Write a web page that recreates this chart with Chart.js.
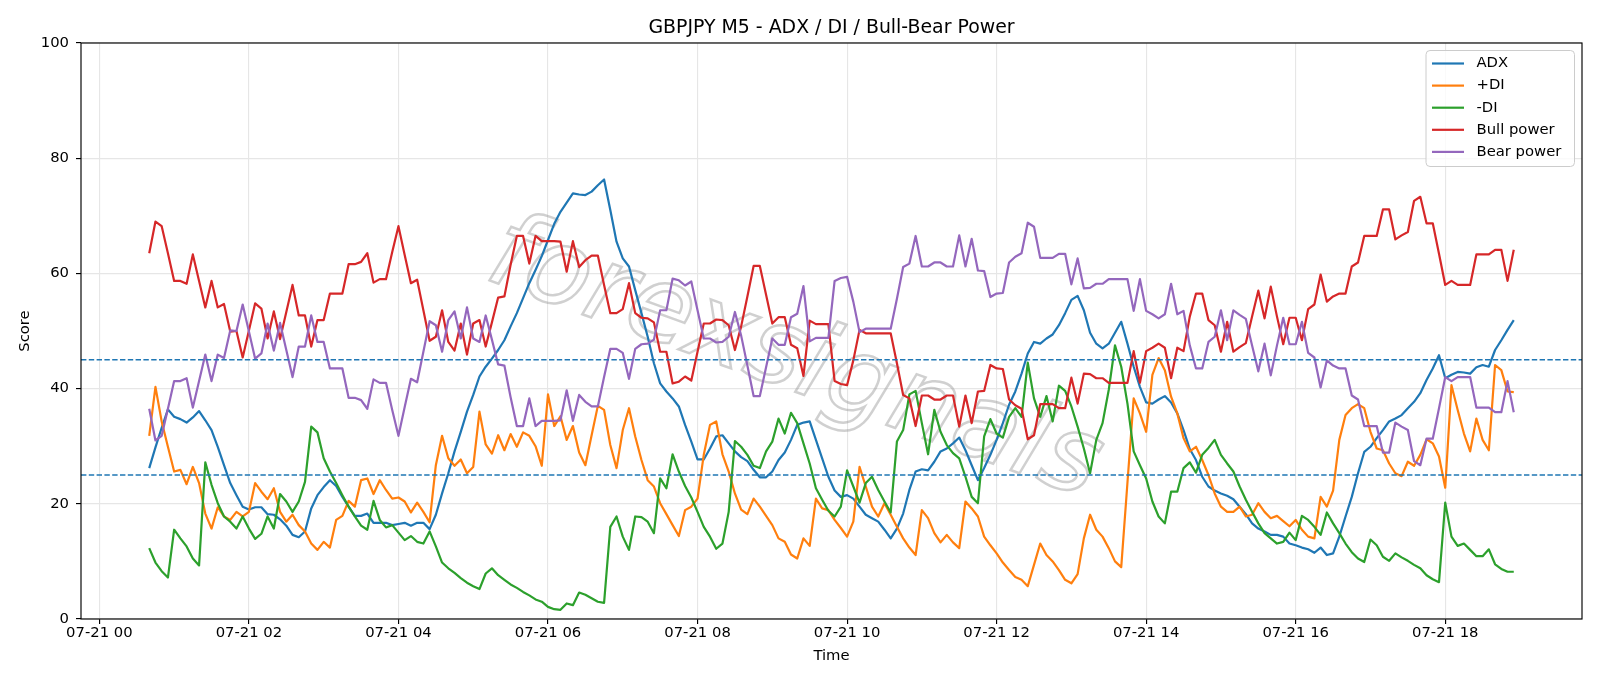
<!DOCTYPE html>
<html>
<head>
<meta charset="utf-8">
<script src="https://cdn.jsdelivr.net/npm/chart.js@4.4.1/dist/chart.umd.min.js"></script>
<style>
  html, body { margin: 0; padding: 0; background: #fff; }
  #wrap { width: 1600px; height: 686px; }
</style>
</head>
<body>
<div id="wrap"><canvas id="adxChart" width="1600" height="686"></canvas></div>
<script>
// ======= DONNEES (M5, 07-21 00:40 -> 18:55) =======
const startMinute = 40;
const stepMinutes = 5;

const adx = [
  26.2, 29.8, 33.2, 36.4, 35.1, 34.7, 34.1, 35.0, 36.1, 34.5,
  32.8, 29.9, 26.7, 23.6, 21.5, 19.5, 19.0, 19.4, 19.4, 18.2,
  18.1, 17.3, 16.2, 14.6, 14.2, 15.2, 19.2, 21.5, 22.9, 24.1,
  23.1, 21.2, 19.5, 17.9, 17.9, 18.3, 16.7, 16.7, 16.7, 16.3,
  16.5, 16.7, 16.2, 16.7, 16.7, 15.6, 18.1, 21.8, 25.3, 29.1,
  32.5, 36.0, 38.9, 42.1, 43.8, 45.2, 46.7, 48.4, 50.8, 53.1,
  55.7, 58.3, 60.6, 63.0, 65.8, 68.6, 70.7, 72.3, 73.9, 73.7,
  73.6, 74.2, 75.3, 76.3, 71.0, 65.5, 62.6, 61.2, 57.1, 53.1,
  49.0, 44.4, 40.9, 39.5, 38.3, 36.9, 33.7, 30.8, 27.7, 27.7,
  29.6, 31.7, 31.9, 30.5, 29.1, 28.1, 27.4, 25.9, 24.6, 24.6,
  25.6, 27.6, 28.9, 31.1, 33.7, 34.1, 34.3, 31.1, 27.9, 24.7,
  22.3, 21.2, 21.5, 20.9, 19.5, 18.1, 17.5, 16.9, 15.5, 14.0,
  15.7, 18.3, 22.4, 25.6, 26.0, 25.8, 27.3, 29.1, 29.6, 30.5,
  31.5, 29.3, 26.7, 24.1, 26.2, 28.5, 31.1, 34.0, 37.2, 39.5,
  42.6, 46.1, 48.1, 47.8, 48.7, 49.4, 51.0, 53.1, 55.4, 56.1,
  53.6, 49.7, 47.8, 47.0, 47.8, 49.7, 51.6, 47.8, 43.8, 40.3,
  37.6, 37.4, 38.1, 38.7, 37.6, 35.7, 32.8, 29.5, 27.6, 24.7,
  23.0, 22.3, 21.8, 21.4, 20.8, 19.5, 18.2, 16.6, 15.7, 15.2,
  14.6, 14.6, 14.3, 13.1, 12.8, 12.4, 12.1, 11.5, 12.4, 11.1,
  11.4, 14.3, 17.8, 21.2, 25.3, 29.0, 29.9, 31.4, 32.8, 34.3,
  34.8, 35.4, 36.6, 37.7, 39.2, 41.5, 43.5, 45.8, 41.8, 42.4,
  42.9, 42.8, 42.6, 43.7, 44.1, 43.8, 46.7, 48.4, 50.2, 51.9
];

const plusDI = [
  31.8, 40.3, 34.3, 29.9, 25.6, 25.9, 23.4, 26.4, 23.6, 18.3,
  15.7, 19.4, 17.8, 17.2, 18.6, 17.8, 18.6, 23.6, 22.1, 20.8,
  22.7, 18.6, 16.9, 18.1, 16.3, 15.2, 13.1, 12.0, 13.4, 12.4,
  17.2, 17.9, 20.5, 19.5, 24.1, 24.4, 21.7, 24.1, 22.4, 20.9,
  21.1, 20.4, 18.5, 20.2, 18.6, 16.8, 26.7, 31.8, 27.9, 26.6,
  27.7, 25.3, 26.4, 36.0, 30.3, 28.7, 31.9, 29.3, 32.1, 29.9,
  32.4, 31.8, 30.0, 26.6, 39.0, 33.5, 35.2, 31.1, 33.5, 28.9,
  26.7, 31.9, 37.0, 36.3, 30.2, 26.2, 32.8, 36.6, 31.7, 27.6,
  24.1, 23.0, 20.1, 18.2, 16.3, 14.4, 18.9, 19.5, 20.9, 28.5,
  33.7, 34.3, 28.6, 25.6, 21.8, 19.0, 18.2, 20.9, 19.5, 17.9,
  16.3, 14.0, 13.4, 11.2, 10.5, 14.0, 12.7, 20.9, 19.2, 18.9,
  17.2, 15.8, 14.3, 16.9, 26.4, 23.0, 19.5, 17.8, 20.1, 18.1,
  16.0, 14.0, 12.4, 11.1, 18.9, 17.5, 14.9, 13.3, 14.6, 13.3,
  12.3, 20.4, 19.2, 17.8, 14.3, 12.8, 11.4, 9.8, 8.5, 7.3,
  6.8, 5.7, 9.4, 13.1, 11.1, 10.0, 8.5, 6.8, 6.2, 7.8,
  14.0, 18.1, 15.5, 14.3, 12.3, 10.0, 9.0, 23.7, 38.3, 35.7,
  32.5, 42.4, 45.3, 43.2, 38.6, 35.7, 31.4, 29.1, 29.9, 27.6,
  25.0, 21.8, 19.5, 18.6, 18.6, 19.5, 17.8, 18.1, 20.1, 18.6,
  17.5, 17.9, 17.0, 16.1, 17.2, 15.5, 14.3, 14.0, 21.2, 19.5,
  22.3, 31.1, 35.4, 36.6, 37.3, 36.6, 32.5, 29.6, 29.3, 27.0,
  25.3, 24.8, 27.3, 26.6, 28.5, 31.2, 30.5, 28.2, 22.8, 40.6,
  36.3, 32.2, 29.1, 34.8, 31.1, 29.3, 44.1, 43.2, 39.5, 39.4
];

const minusDI = [
  12.3, 9.8, 8.3, 7.2, 15.5, 14.0, 12.6, 10.5, 9.3, 27.2,
  23.3, 20.1, 17.8, 16.9, 15.7, 17.8, 15.7, 13.9, 14.8, 17.8,
  15.7, 21.7, 20.4, 18.6, 20.4, 23.8, 33.4, 32.4, 27.9, 25.6,
  23.6, 21.5, 19.5, 17.8, 16.2, 15.5, 20.5, 17.2, 15.9, 16.3,
  15.0, 13.7, 14.4, 13.4, 13.1, 15.2, 12.6, 9.8, 8.8, 8.0,
  7.1, 6.3, 5.7, 5.2, 7.9, 8.8, 7.6, 6.8, 6.0, 5.4,
  4.7, 4.1, 3.4, 3.0, 2.1, 1.7, 1.6, 2.7, 2.4, 4.6,
  4.2, 3.6, 3.0, 2.8, 16.0, 17.8, 14.3, 12.0, 17.8, 17.7,
  16.9, 14.9, 24.4, 22.7, 28.6, 25.6, 23.1, 21.1, 18.6, 16.0,
  14.3, 12.2, 13.1, 18.6, 30.9, 29.9, 28.5, 26.6, 26.2, 29.1,
  30.8, 34.8, 32.2, 35.8, 34.0, 30.5, 27.0, 22.7, 20.7, 18.8,
  17.8, 19.5, 25.8, 23.0, 20.2, 23.6, 24.7, 22.4, 20.4, 18.5,
  30.8, 32.8, 39.0, 39.6, 34.0, 28.6, 36.3, 32.5, 30.2, 28.8,
  27.9, 24.7, 21.2, 20.1, 31.7, 34.7, 32.2, 31.5, 35.1, 36.6,
  35.1, 44.5, 38.3, 35.1, 38.7, 34.3, 40.5, 39.6, 36.9, 33.4,
  29.6, 25.3, 31.1, 34.0, 39.8, 47.5, 43.8, 37.4, 29.1, 26.7,
  24.4, 20.4, 17.8, 16.6, 22.1, 22.1, 26.2, 27.2, 25.4, 28.5,
  29.7, 31.1, 28.5, 27.0, 25.6, 23.0, 20.7, 18.6, 16.6, 14.9,
  14.0, 13.1, 13.4, 15.0, 13.7, 17.9, 17.2, 16.0, 14.6, 18.5,
  16.6, 14.9, 13.1, 11.6, 10.5, 9.9, 13.8, 12.8, 10.8, 10.1,
  11.4, 10.7, 10.1, 9.4, 8.8, 7.6, 6.9, 6.4, 20.2, 14.3,
  12.7, 13.1, 12.0, 10.9, 10.9, 12.1, 9.5, 8.7, 8.2, 8.2
];

const bullPower = [
  63.5, 69.0, 68.2, 63.5, 58.7, 58.7, 58.2, 63.3, 58.7, 54.1,
  58.7, 54.1, 54.7, 49.9, 50.0, 45.4, 50.1, 54.8, 53.9, 48.7,
  53.4, 48.6, 53.3, 58.0, 52.7, 52.7, 47.3, 51.9, 51.9, 56.5,
  56.5, 56.5, 61.6, 61.6, 62.0, 63.5, 58.4, 59.0, 59.0, 63.7,
  68.2, 63.2, 58.3, 58.9, 53.6, 48.3, 49.0, 53.6, 48.1, 46.6,
  51.3, 45.9, 51.3, 51.9, 47.3, 51.5, 55.8, 56.0, 61.5, 66.5,
  66.5, 61.7, 66.5, 65.6, 65.6, 65.6, 65.5, 60.3, 65.6, 61.1,
  62.3, 63.1, 63.1, 58.0, 53.1, 53.1, 53.8, 58.3, 53.1, 52.3,
  52.2, 51.5, 46.4, 46.4, 40.9, 41.2, 42.1, 41.4, 46.4, 51.3,
  51.3, 52.0, 51.9, 51.0, 46.7, 50.8, 56.0, 61.3, 61.3, 56.3,
  51.3, 52.4, 52.4, 47.6, 47.0, 42.2, 51.8, 51.2, 51.2, 51.2,
  41.3, 40.8, 40.6, 44.9, 50.2, 49.6, 49.6, 49.6, 49.6, 49.6,
  44.4, 38.9, 38.3, 33.5, 38.8, 38.8, 38.1, 38.1, 38.8, 38.8,
  33.4, 38.8, 34.0, 39.5, 39.6, 44.1, 43.5, 43.4, 38.1, 37.1,
  36.5, 31.2, 31.9, 37.3, 37.3, 37.3, 36.6, 36.6, 41.9, 37.4,
  42.6, 42.5, 41.8, 41.8, 41.0, 41.0, 41.0, 41.0, 46.5, 41.0,
  46.5, 47.1, 47.8, 47.1, 41.8, 47.1, 46.5, 52.5, 56.5, 56.5,
  51.9, 51.0, 46.4, 51.6, 46.4, 47.2, 47.9, 52.5, 57.0, 52.2,
  57.7, 52.5, 47.7, 52.3, 52.3, 48.4, 53.8, 54.6, 59.8, 55.1,
  56.0, 56.5, 56.5, 61.2, 61.9, 66.5, 66.5, 66.5, 71.1, 71.1,
  65.9, 66.6, 67.2, 72.6, 73.3, 68.7, 68.7, 63.4, 58.0, 58.7,
  58.0, 58.0, 58.0, 63.3, 63.3, 63.3, 64.1, 64.1, 58.7, 64.1
];

const bearPower = [
  36.5, 31.0, 31.8, 36.5, 41.3, 41.3, 41.8, 36.7, 41.3, 45.9,
  41.3, 45.9, 45.3, 50.1, 50.0, 54.6, 49.9, 45.2, 46.1, 51.3,
  46.6, 51.4, 46.7, 42.0, 47.3, 47.3, 52.7, 48.1, 48.1, 43.5,
  43.5, 43.5, 38.4, 38.4, 38.0, 36.5, 41.6, 41.0, 41.0, 36.3,
  31.8, 36.8, 41.7, 41.1, 46.4, 51.7, 51.0, 46.4, 51.9, 53.4,
  48.7, 54.1, 48.7, 48.1, 52.7, 48.5, 44.2, 44.0, 38.5, 33.5,
  33.5, 38.3, 33.5, 34.4, 34.4, 34.4, 34.5, 39.7, 34.4, 38.9,
  37.7, 36.9, 36.9, 42.0, 46.9, 46.9, 46.2, 41.7, 46.9, 47.7,
  47.8, 48.5, 53.6, 53.6, 59.1, 58.8, 57.9, 58.6, 53.6, 48.7,
  48.7, 48.0, 48.1, 49.0, 53.3, 49.2, 44.0, 38.7, 38.7, 43.7,
  48.7, 47.6, 47.6, 52.4, 53.0, 57.8, 48.2, 48.8, 48.8, 48.8,
  58.7, 59.2, 59.4, 55.1, 49.8, 50.4, 50.4, 50.4, 50.4, 50.4,
  55.6, 61.1, 61.7, 66.5, 61.2, 61.2, 61.9, 61.9, 61.2, 61.2,
  66.6, 61.2, 66.0, 60.5, 60.4, 55.9, 56.5, 56.6, 61.9, 62.9,
  63.5, 68.8, 68.1, 62.7, 62.7, 62.7, 63.4, 63.4, 58.1, 62.6,
  57.4, 57.5, 58.2, 58.2, 59.0, 59.0, 59.0, 59.0, 53.5, 59.0,
  53.5, 52.9, 52.2, 52.9, 58.2, 52.9, 53.5, 47.5, 43.5, 43.5,
  48.1, 49.0, 53.6, 48.4, 53.6, 52.8, 52.1, 47.5, 43.0, 47.8,
  42.3, 47.5, 52.3, 47.7, 47.7, 51.6, 46.2, 45.4, 40.2, 44.9,
  44.0, 43.5, 43.5, 38.8, 38.1, 33.5, 33.5, 33.5, 28.9, 28.9,
  34.1, 33.4, 32.8, 27.4, 26.7, 31.3, 31.3, 36.6, 42.0, 41.3,
  42.0, 42.0, 42.0, 36.7, 36.7, 36.7, 35.9, 35.9, 41.3, 35.9
];

const tickHours = [0, 2, 4, 6, 8, 10, 12, 14, 16, 18];
const tickLabels = ['07-21 00', '07-21 02', '07-21 04', '07-21 06', '07-21 08',
                    '07-21 10', '07-21 12', '07-21 14', '07-21 16', '07-21 18'];
const levels = [25, 45];

// minutes depuis 07-21 00:00
const times = adx.map((_, i) => startMinute + i * stepMinutes);
const span = times[times.length - 1] - times[0];
const xMin = times[0] - 0.05 * span;
const xMax = times[times.length - 1] + 0.05 * span;

const toPoints = arr => arr.map((v, i) => ({ x: times[i], y: v }));

const series = [
  { label: 'ADX', data: adx, color: '#1f77b4' },
  { label: '+DI', data: plusDI, color: '#ff7f0e' },
  { label: '-DI', data: minusDI, color: '#2ca02c' },
  { label: 'Bull power', data: bullPower, color: '#d62728' },
  { label: 'Bear power', data: bearPower, color: '#9467bd' }
];

const datasets = series.map((s, k) => ({
  label: s.label,
  data: toPoints(s.data),
  borderColor: s.color,
  backgroundColor: s.color,
  borderWidth: 2.2,
  pointRadius: 0,
  tension: 0,
  borderJoinStyle: 'round',
  order: 10 - k
}));

levels.forEach(lv => {
  datasets.push({
    label: 'level ' + lv,
    data: [{ x: xMin, y: lv }, { x: xMax, y: lv }],
    borderColor: '#1f77b4',
    borderWidth: 1.45,
    borderDash: [5.4, 2.4],
    pointRadius: 0,
    order: 1
  });
});

// ======= DECOR : titre, cadre, legende, filigrane =======
const decorPlugin = {
  id: 'decor',
  beforeDatasetsDraw(chart) {
    const ctx = chart.ctx;
    ctx.save();
    ctx.translate(794, 362);
    ctx.rotate(20 * Math.PI / 180);
    ctx.font = 'oblique 106px "DejaVu Sans"';
    ctx.textAlign = 'center';
    ctx.textBaseline = 'middle';
    ctx.strokeStyle = 'rgba(150,150,150,0.45)';
    ctx.lineWidth = 2.5;
    ctx.strokeText('forexsignals', 0, 0);
    ctx.restore();
  },
  afterDraw(chart) {
    const ctx = chart.ctx;
    const a = chart.chartArea;
    ctx.save();

    // titre
    ctx.fillStyle = '#000';
    ctx.font = '18.9px "DejaVu Sans"';
    ctx.textAlign = 'center';
    ctx.textBaseline = 'middle';
    ctx.fillText('GBPJPY M5 - ADX / DI / Bull-Bear Power', (a.left + a.right) / 2, 28.5);

    // cadre
    ctx.strokeStyle = '#000';
    ctx.lineWidth = 1.15;
    ctx.strokeRect(a.left, a.top, a.right - a.left, a.bottom - a.top);

    // legende
    const w = 148.5, h = 116;
    const lx = a.right - 7.5 - w, ly = a.top + 7.5;
    ctx.beginPath();
    ctx.roundRect(lx, ly, w, h, 4);
    ctx.fillStyle = 'rgba(255,255,255,0.8)';
    ctx.fill();
    ctx.strokeStyle = '#cccccc';
    ctx.lineWidth = 1;
    ctx.stroke();

    ctx.font = '14.8px "DejaVu Sans"';
    ctx.textAlign = 'left';
    ctx.textBaseline = 'middle';
    series.forEach((s, i) => {
      const y = ly + 13 + i * 22.1;
      ctx.strokeStyle = s.color;
      ctx.lineWidth = 2.2;
      ctx.beginPath();
      ctx.moveTo(lx + 6, y);
      ctx.lineTo(lx + 38, y);
      ctx.stroke();
      ctx.fillStyle = '#000';
      ctx.fillText(s.label, lx + 50.5, y);
    });
    ctx.restore();
  }
};

Chart.defaults.font.family = '"DejaVu Sans"';
Chart.defaults.font.size = 14.8;
Chart.defaults.color = '#000';

new Chart(document.getElementById('adxChart'), {
  type: 'line',
  data: { datasets: datasets },
  options: {
    responsive: false,
    maintainAspectRatio: false,
    animation: false,
    devicePixelRatio: 1,
    layout: { padding: { top: 43, right: 18, bottom: 0, left: 0 } },
    plugins: {
      legend: { display: false },
      title: { display: false },
      tooltip: { enabled: false }
    },
    scales: {
      x: {
        type: 'linear',
        min: xMin,
        max: xMax,
        afterFit: scale => { scale.height = 67; },
        afterBuildTicks: scale => {
          scale.ticks = tickHours.map(hh => ({ value: hh * 60 }));
        },
        ticks: {
          padding: 0,
          maxRotation: 0,
          autoSkip: false,
          callback: (value, index) => tickLabels[index]
        },
        grid: { color: '#e6e6e6', lineWidth: 1.15, tickColor: '#000', tickLength: 5, tickWidth: 1.15 },
        border: { display: false },
        title: { display: true, text: 'Time', padding: { top: 0, bottom: 21 } }
      },
      y: {
        min: 0,
        max: 100,
        afterFit: scale => { scale.width = 81; },
        ticks: { stepSize: 20, padding: 7 },
        grid: { color: '#e6e6e6', lineWidth: 1.15, tickColor: '#000', tickLength: 5, tickWidth: 1.15 },
        border: { display: false },
        title: { display: true, text: 'Score', padding: { top: 16.5, bottom: 0 } }
      }
    }
  },
  plugins: [decorPlugin]
});
</script>
</body>
</html>
